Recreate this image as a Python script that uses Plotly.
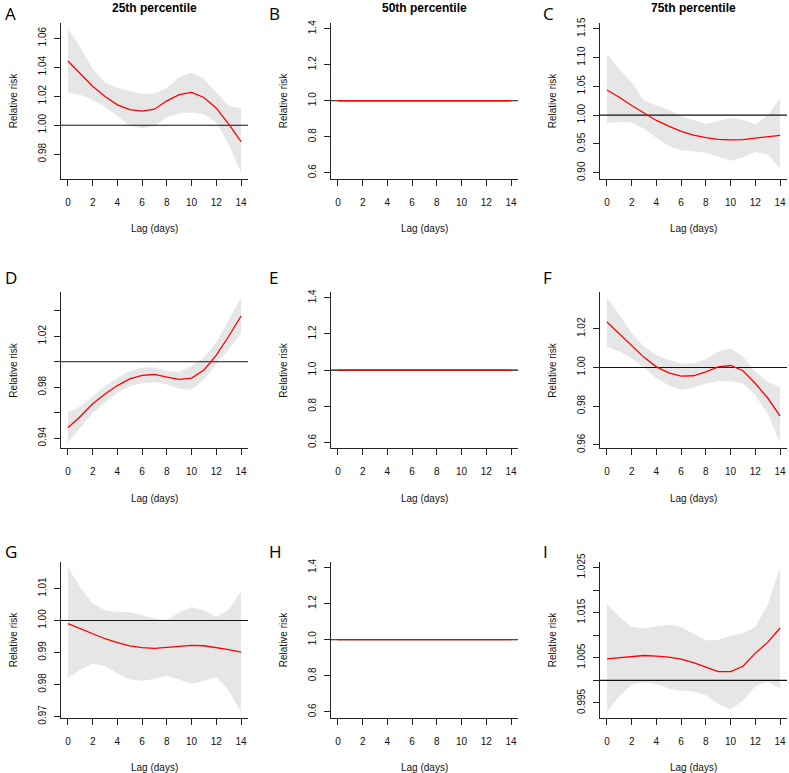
import plotly.graph_objects as go

# ---------------- data ----------------
lags = [0, 1, 2, 3, 4, 5, 6, 7, 8, 9, 10, 11, 12, 13, 14]

A_fit = [1.0443, 1.0355, 1.0268, 1.0198, 1.0140, 1.0108, 1.0097, 1.0110, 1.0168, 1.0210, 1.0226, 1.0191, 1.0117, 1.0007, 0.9886]
A_high = [1.0665, 1.0538, 1.0388, 1.0295, 1.0256, 1.0233, 1.0215, 1.0219, 1.0256, 1.0330, 1.0364, 1.0318, 1.0226, 1.0133, 1.0115]
A_low = [1.0226, 1.0210, 1.0173, 1.0127, 1.0064, 0.9995, 0.9979, 0.9995, 1.0057, 1.0080, 1.0087, 1.0076, 1.0018, 0.9868, 0.9672]

B_fit = [1.0, 1.0, 1.0, 1.0, 1.0, 1.0, 1.0, 1.0, 1.0, 1.0, 1.0, 1.0, 1.0, 1.0, 1.0]
B_high = [1.0, 1.0, 1.0, 1.0, 1.0, 1.0, 1.0, 1.0, 1.0, 1.0, 1.0, 1.0, 1.0, 1.0, 1.0]
B_low = [1.0, 1.0, 1.0, 1.0, 1.0, 1.0, 1.0, 1.0, 1.0, 1.0, 1.0, 1.0, 1.0, 1.0, 1.0]

C_fit = [1.0437, 1.0310, 1.0167, 1.0034, 0.9908, 0.9810, 0.9718, 0.9655, 0.9609, 0.9580, 0.9569, 0.9575, 0.9598, 0.9620, 0.9650]
C_high = [1.1057, 1.0799, 1.0569, 1.0253, 1.0167, 1.0092, 0.9977, 0.9908, 0.9851, 0.9897, 0.9948, 0.9920, 0.9839, 0.9994, 1.0293]
C_low = [0.9862, 0.9879, 0.9874, 0.9764, 0.9603, 0.9466, 0.9391, 0.9374, 0.9345, 0.9276, 0.9207, 0.9264, 0.9362, 0.9316, 0.9075]

D_fit = [0.9482, 0.9570, 0.9670, 0.9747, 0.9813, 0.9866, 0.9893, 0.9900, 0.9880, 0.9861, 0.9872, 0.9935, 1.0052, 1.0200, 1.0359]
D_high = [0.9604, 0.9649, 0.9728, 0.9808, 0.9874, 0.9927, 0.9954, 0.9954, 0.9927, 0.9922, 0.9967, 1.0033, 1.0152, 1.0324, 1.0502]
D_low = [0.9366, 0.9477, 0.9596, 0.9683, 0.9755, 0.9808, 0.9834, 0.9840, 0.9821, 0.9787, 0.9781, 0.9861, 0.9980, 1.0099, 1.0219]

E_fit = [1.0, 1.0, 1.0, 1.0, 1.0, 1.0, 1.0, 1.0, 1.0, 1.0, 1.0, 1.0, 1.0, 1.0, 1.0]
E_high = [1.0, 1.0, 1.0, 1.0, 1.0, 1.0, 1.0, 1.0, 1.0, 1.0, 1.0, 1.0, 1.0, 1.0, 1.0]
E_low = [1.0, 1.0, 1.0, 1.0, 1.0, 1.0, 1.0, 1.0, 1.0, 1.0, 1.0, 1.0, 1.0, 1.0, 1.0]

F_fit = [1.0235, 1.0174, 1.0108, 1.0052, 1.0003, 0.9972, 0.9955, 0.9957, 0.9977, 1.0003, 1.0010, 0.9983, 0.9917, 0.9842, 0.9748]
F_high = [1.0360, 1.0273, 1.0177, 1.0108, 1.0064, 1.0038, 1.0021, 1.0021, 1.0042, 1.0082, 1.0097, 1.0056, 0.9977, 0.9925, 0.9899]
F_low = [1.0108, 1.0082, 1.0047, 1.0000, 0.9943, 0.9908, 0.9885, 0.9896, 0.9917, 0.9929, 0.9929, 0.9917, 0.9856, 0.9760, 0.9612]

G_fit = [0.9990, 0.9975, 0.9959, 0.9943, 0.9931, 0.9921, 0.9915, 0.9913, 0.9916, 0.9919, 0.9922, 0.9921, 0.9916, 0.9909, 0.9901]
G_high = [1.0166, 1.0103, 1.0053, 1.0032, 1.0027, 1.0026, 1.0017, 1.0006, 1.0001, 1.0025, 1.0042, 1.0032, 1.0011, 1.0034, 1.0092]
G_low = [0.9820, 0.9846, 0.9865, 0.9858, 0.9834, 0.9816, 0.9811, 0.9818, 0.9828, 0.9816, 0.9802, 0.9811, 0.9823, 0.9781, 0.9714]

H_fit = [1.0, 1.0, 1.0, 1.0, 1.0, 1.0, 1.0, 1.0, 1.0, 1.0, 1.0, 1.0, 1.0, 1.0, 1.0]
H_high = [1.0, 1.0, 1.0, 1.0, 1.0, 1.0, 1.0, 1.0, 1.0, 1.0, 1.0, 1.0, 1.0, 1.0, 1.0]
H_low = [1.0, 1.0, 1.0, 1.0, 1.0, 1.0, 1.0, 1.0, 1.0, 1.0, 1.0, 1.0, 1.0, 1.0, 1.0]

I_fit = [1.00476, 1.00506, 1.00536, 1.0055, 1.00536, 1.00513, 1.00469, 1.00394, 1.0029, 1.00193, 1.00193, 1.00312, 1.00603, 1.0084, 1.0116]
I_high = [1.0168, 1.0141, 1.0118, 1.0115, 1.0120, 1.0123, 1.0118, 1.0103, 1.0088, 1.0090, 1.0099, 1.0105, 1.0118, 1.0168, 1.0250]
I_low = [0.9930, 0.9965, 0.9990, 0.9995, 0.9992, 0.9982, 0.9977, 0.9975, 0.9967, 0.9947, 0.9936, 0.9955, 0.9987, 0.9997, 0.9982]

panel_letters = ["A", "B", "C", "D", "E", "F", "G", "H", "I"]
column_titles = ["25th percentile", "50th percentile", "75th percentile"]
x_ticks = [0, 2, 4, 6, 8, 10, 12, 14]
x_title = "Lag (days)"
y_title = "Relative risk"
reference_value = 1.0

# y ticks per panel (value, label); empty label = unlabeled tick
A_yticks = [0.98, 1.00, 1.02, 1.04, 1.06]
A_ylabels = ["0.98", "1.00", "1.02", "1.04", "1.06"]
B_yticks = [0.6, 0.8, 1.0, 1.2, 1.4]
B_ylabels = ["0.6", "0.8", "1.0", "1.2", "1.4"]
C_yticks = [0.90, 0.95, 1.00, 1.05, 1.10, 1.15]
C_ylabels = ["0.90", "0.95", "1.00", "1.05", "1.10", "1.15"]
C_ylim = [0.90, 1.15]
D_yticks = [0.94, 0.96, 0.98, 1.00, 1.02, 1.04]
D_ylabels = ["0.94", "", "0.98", "", "1.02", ""]
F_yticks = [0.96, 0.98, 1.00, 1.02]
F_ylabels = ["0.96", "0.98", "1.00", "1.02"]
G_yticks = [0.97, 0.98, 0.99, 1.00, 1.01]
G_ylabels = ["0.97", "0.98", "0.99", "1.00", "1.01"]
I_yticks = [0.995, 1.000, 1.005, 1.010, 1.015, 1.020, 1.025]
I_ylabels = ["0.995", "", "1.005", "", "1.015", "", "1.025"]

panels = [
    (A_fit, A_low, A_high, A_yticks, A_ylabels, None),
    (B_fit, B_low, B_high, B_yticks, B_ylabels, None),
    (C_fit, C_low, C_high, C_yticks, C_ylabels, C_ylim),
    (D_fit, D_low, D_high, D_yticks, D_ylabels, None),
    (E_fit, E_low, E_high, B_yticks, B_ylabels, None),
    (F_fit, F_low, F_high, F_yticks, F_ylabels, None),
    (G_fit, G_low, G_high, G_yticks, G_ylabels, None),
    (H_fit, H_low, H_high, B_yticks, B_ylabels, None),
    (I_fit, I_low, I_high, I_yticks, I_ylabels, None),
]

# ---------------- layout geometry ----------------
W, H = 789, 773
col_px = [(61, 248), (331, 518), (600, 787)]
row_px = [(23, 178.5), (292, 448.3), (561.7, 717.7)]
letter_y = [13.2, 277.0, 551.0]
letter_x = [3, 267, 541]

def px(x):
    return x / W

def py(y):
    return 1 - y / H

def r_range(lo, hi):
    if hi - lo == 0:
        lo, hi = lo - 0.4 * abs(lo), hi + 0.4 * abs(hi)
    e = 0.04 * (hi - lo)
    return [lo - e, hi + e]

TXT = "Liberation Sans, Arial, sans-serif"
AXC = "#222222"
BAND = "#E6E6E6"

fig = go.Figure()
layout = dict(
    width=W, height=H, margin=dict(l=0, r=0, t=0, b=0, autoexpand=False),
    paper_bgcolor="white", plot_bgcolor="white", showlegend=False,
    font=dict(family=TXT, size=10, color="#111111"),
)
annotations = []

xr = r_range(min(lags), max(lags))

for i, (fit, low, high, yt, yl, ylim) in enumerate(panels):
    r, c = divmod(i, 3)
    k = i + 1
    xa = "x" if k == 1 else f"x{k}"
    ya = "y" if k == 1 else f"y{k}"
    yr = r_range(*(ylim if ylim else (min(low), max(high))))

    fig.add_trace(go.Scatter(x=lags, y=high, mode="lines", line=dict(width=0, color=BAND),
                             hoverinfo="skip", xaxis=xa, yaxis=ya))
    fig.add_trace(go.Scatter(x=lags, y=low, mode="lines", line=dict(width=0, color=BAND),
                             fill="tonexty", fillcolor=BAND, hoverinfo="skip", xaxis=xa, yaxis=ya))
    fig.add_trace(go.Scatter(x=xr, y=[reference_value, reference_value], mode="lines",
                             line=dict(width=1.1, color="#111111"), hoverinfo="skip", xaxis=xa, yaxis=ya))
    fig.add_trace(go.Scatter(x=lags, y=fit, mode="lines", line=dict(width=1.3, color="#FF0000"),
                             xaxis=xa, yaxis=ya))

    x0, x1 = col_px[c]
    y0, y1 = row_px[r]
    common = dict(showline=True, linecolor=AXC, linewidth=1, ticks="outside", ticklen=6,
                  tickwidth=1, tickcolor=AXC, showgrid=False, zeroline=False, automargin=False,
                  tickfont=dict(family=TXT, size=10, color="#111111"))
    layout["xaxis" if k == 1 else f"xaxis{k}"] = dict(
        domain=[px(x0), px(x1)], range=xr, anchor=ya, tickmode="array",
        tickvals=x_ticks, ticktext=[str(v) for v in x_ticks], ticklabelstandoff=8, **common)
    layout["yaxis" if k == 1 else f"yaxis{k}"] = dict(
        domain=[py(y1), py(y0)], range=yr, anchor=xa, tickmode="array",
        tickvals=yt, ticktext=yl, tickangle=-90, ticklabelstandoff=4, **common)

    # axis titles
    annotations.append(dict(text=x_title, x=px((x0 + x1) / 2), y=py(y1 + 50), xref="paper", yref="paper",
                            showarrow=False, xanchor="center", yanchor="middle",
                            font=dict(family=TXT, size=10, color="#111111")))
    annotations.append(dict(text=y_title, x=px(x0 - 47.5), y=py((y0 + y1) / 2), xref="paper", yref="paper",
                            showarrow=False, xanchor="center", yanchor="middle", textangle=-90,
                            font=dict(family=TXT, size=10, color="#111111")))
    # panel letter
    annotations.append(dict(text=panel_letters[i], x=px(letter_x[c]), y=py(letter_y[r]), xref="paper",
                            yref="paper", showarrow=False, xanchor="left", yanchor="middle",
                            font=dict(family="Open Sans, sans-serif", size=17, color="#000000")))

for c, t in enumerate(column_titles):
    x0, x1 = col_px[c]
    annotations.append(dict(text=f"<b>{t}</b>", x=px((x0 + x1) / 2), y=py(7.5), xref="paper", yref="paper",
                            showarrow=False, xanchor="center", yanchor="middle",
                            font=dict(family=TXT, size=12, color="#000000")))

layout["annotations"] = annotations
fig.update_layout(**layout)
fig.write_html("out.html", config={"displayModeBar": False},
               post_script="document.body.style.margin='0';document.body.style.overflow='hidden';")
